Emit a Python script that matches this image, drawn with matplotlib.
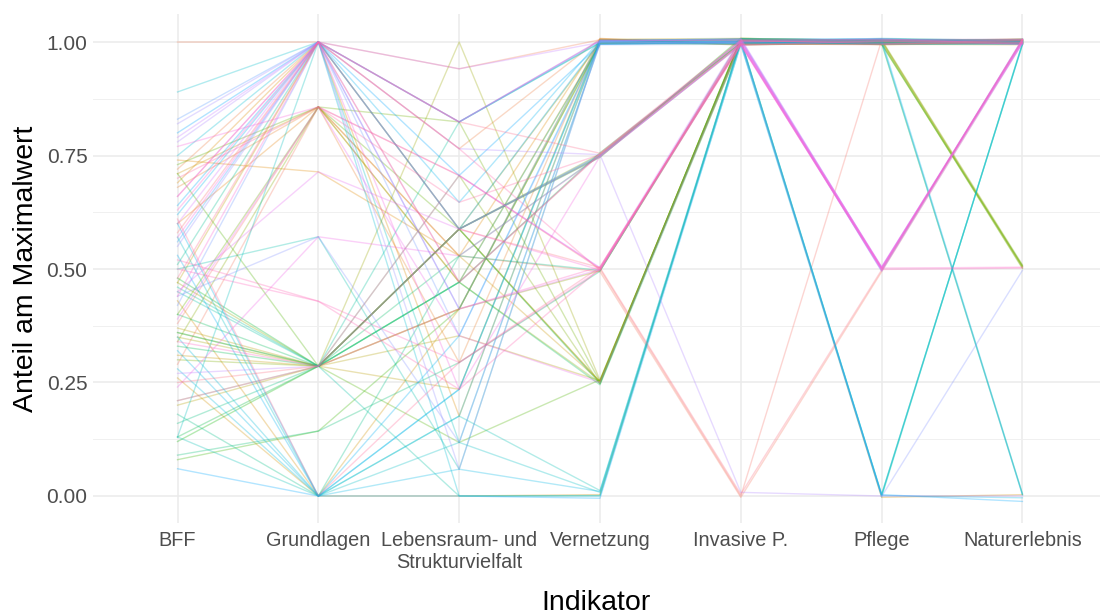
import numpy as np
import matplotlib
matplotlib.use("Agg")
import matplotlib.pyplot as plt
from matplotlib.ticker import FixedLocator

plt.rcParams["font.family"] = ["Liberation Sans", "DejaVu Sans"]

indikatoren = ["BFF", "Grundlagen", "Lebensraum- und\nStrukturvielfalt", "Vernetzung",
               "Invasive P.", "Pflege", "Naturerlebnis"]

# group number of each area (sets its colour)
gebiet = [2, 41, 53, 51, 3, 49, 5, 52, 35, 13,
          39, 43, 4, 15, 37, 54, 6, 44, 11, 47,
          75, 28, 77, 30, 25, 79, 68, 69, 71, 31,
          73, 74, 17, 27, 12, 29, 10, 38, 40, 42,
          57, 60, 62, 64, 59, 61, 63, 65, 56, 66,
          16, 18, 20, 22, 14, 24, 46, 48, 26, 0,
          1, 78, 58, 8, 50, 45, 55, 70, 72, 7,
          32, 9, 34, 76, 19, 23, 33, 36, 67, 21]

# one entry per area, share of the maximum value per indicator
bff = [1.00, 0.89, 0.83, 0.80, 0.72, 0.64, 0.60, 0.56, 0.46, 0.37,
       0.13, 0.35, 0.68, 0.21, 0.50, 0.42, 0.74, 0.28, 0.31, 0.62,
       0.70, 0.33, 0.48, 0.36, 0.12, 0.58, 0.77, 0.44, 0.34, 0.09,
       0.52, 0.66, 0.36, 0.13, 0.47, 0.40, 0.71, 0.13, 0.57, 0.75,
       0.82, 0.79, 0.60, 0.45, 0.27, 0.21, 0.66, 0.39, 0.55, 0.24,
       0.35, 0.47, 0.30, 0.73, 0.20, 0.08, 0.60, 0.53, 0.48, 0.38,
       0.29, 0.25, 0.78, 0.43, 0.06, 0.32, 0.44, 0.63, 0.50, 0.69,
       0.16, 0.26, 0.51, 0.61, 0.34, 0.71, 0.18, 0.45, 0.57, 0.40]

grundlagen = [1.000, 1.000, 1.000, 1.000, 1.000, 1.000, 0.857, 1.000, 0.286, 0.286,
              1.000, 0.000, 0.857, 0.286, 0.571, 1.000, 0.714, 0.000, 0.286, 1.000,
              0.857, 0.286, 1.000, 0.286, 0.286, 1.000, 0.857, 1.000, 0.286, 0.143,
              0.429, 1.000, 0.286, 0.286, 1.000, 0.286, 0.857, 0.000, 0.000, 1.000,
              1.000, 1.000, 1.000, 0.714, 0.286, 0.286, 1.000, 0.857, 1.000, 0.571,
              0.286, 0.286, 0.286, 0.857, 0.286, 0.143, 0.000, 0.000, 0.286, 0.857,
              0.857, 0.286, 1.000, 0.000, 0.000, 0.000, 0.571, 1.000, 0.429, 1.000,
              0.286, 0.000, 1.000, 0.000, 0.857, 0.286, 0.000, 0.286, 1.000, 0.857]

lebensraum = [0.941, 0.824, 0.824, 0.706, 0.765, 0.588, 0.471, 0.412, 0.824, 0.235,
              0.118, 0.176, 0.294, 0.588, 0.059, 0.353, 0.529, 0.235, 0.412, 0.647,
              0.647, 0.588, 0.824, 0.529, 0.588, 0.471, 0.706, 0.588, 0.412, 0.294,
              0.235, 0.765, 1.000, 0.588, 0.588, 0.471, 0.529, 0.176, 0.118, 0.000,
              0.824, 0.941, 0.471, 0.588, 0.588, 0.706, 0.412, 0.353, 0.059, 0.529,
              0.588, 0.412, 0.706, 0.588, 0.353, 0.412, 0.235, 0.353, 0.471, 0.706,
              0.529, 0.588, 0.765, 0.000, 0.000, 0.059, 0.118, 0.824, 0.294, 0.176,
              0.471, 0.412, 0.588, 0.294, 0.471, 0.118, 0.529, 0.000, 0.235, 0.824]

vernetzung = [1.005, 0.998, 1.003, 0.995, 1.007, 1.001, 0.997, 1.004, 0.999, 1.006,
              0.996, 1.002, 1.008, 0.998, 1.003, 0.994, 1.005, 1.000, 0.997, 1.004,
              0.752, 0.748, 0.755, 0.750, 0.746, 0.753, 0.502, 0.498, 0.505, 0.495,
              0.501, 0.497, 0.255, 0.248, 0.251, 0.245, 0.253, 0.012, 0.008, 0.000,
              1.002, 0.999, 0.754, 0.747, 0.751, 0.503, 0.499, 0.250, 1.001, 0.749,
              0.252, 0.496, 0.247, 0.753, 0.254, 0.997, 1.003, 0.999, 0.756, 0.500,
              0.494, 0.503, 0.752, 0.003, -0.005, 0.010, 0.996, 1.004, 0.498, 1.002,
              0.995, 1.006, 0.750, 0.504, 0.249, 0.256, 0.497, 0.001, 0.748, 0.252]

invasive = [1.004, 0.997, 1.007, 1.000, 0.994, 1.002, 0.999, 1.005, 0.996, 1.008,
            0.998, 1.003, 0.993, 1.006, 1.001, 0.995, 1.004, 0.999, 1.007, 0.997,
            1.002, 0.994, 1.005, 0.998, 1.008, 0.996, 1.001, 1.004, 0.993, 1.006,
            0.999, 1.003, 0.995, 1.007, 1.000, 0.997, 1.005, 1.002, 0.994, 1.004,
            1.006, 0.998, 1.001, 0.995, 1.003, 1.008, 0.996, 1.000, 1.005, 0.993,
            1.002, 0.997, 1.006, 0.999, 1.004, 0.995, 1.007, 1.001, 0.998, 0.000,
            -0.003, 0.004, 0.008, 1.003, 0.996, 1.005, 0.999, 1.002, 0.994, 1.006,
            1.001, 0.997, 1.004, 0.995, 1.008, 1.000, 0.998, 1.003, 0.996, 1.005]

pflege = [1.003, 0.998, 1.006, 0.995, 1.001, 1.007, 0.997, 1.004, 0.999, 1.002,
          0.996, 1.005, 1.000, 0.994, 1.008, 1.002, 0.998, 1.004, 0.995, 1.006,
          1.001, 0.997, 1.005, 0.999, 1.003, 0.994, 1.007, 0.996, 1.002, 1.000,
          1.004, 0.998, 1.006, 0.995, 1.001, 1.003, 0.997, 0.002, -0.002, 0.004,
          0.503, 0.497, 0.505, 0.500, 0.495, 0.502, 0.498, 0.504, 0.496, 0.501,
          1.002, 0.996, 1.005, 0.999, 1.003, 0.995, 1.006, 1.000, 0.997, 1.004,
          0.494, 0.498, 0.000, -0.003, 0.003, 0.001, -0.001, 0.502, 0.499, 1.002,
          0.997, 1.005, 1.001, 0.995, 1.003, 0.998, 1.006, 0.002, 0.503, 0.999]

naturerlebnis = [1.002, 0.998, 1.005, 0.996, 1.003, 1.000, 0.997, 1.006, 0.999, 1.004,
                 0.995, 1.001, 1.007, 0.998, 1.003, 0.996, 1.005, 1.000, 0.994, 1.002,
                 1.004, 0.999, 1.006, 0.997, 1.001, 1.003, 0.995, 1.005, 0.998, 1.002,
                 1.000, 0.996, 1.004, 0.999, 1.006, 0.997, 1.002, 0.995, 0.998, 0.994,
                 1.003, 1.007, 0.999, 1.005, 0.997, 1.002, 1.004, 0.998, 1.006, 1.001,
                 0.506, 0.503, 0.509, 0.501, 0.505, 0.507, 0.005, 0.002, 0.004, 1.003,
                 0.999, 1.005, 0.000, 0.003, -0.012, -0.004, 0.497, 0.504, 0.502, 1.001,
                 1.006, 0.997, 1.003, 0.999, 1.004, 0.996, 1.002, 0.996, 1.005, 0.998]


def hcl_color(h, c=100, l=65):
    # polar LUV -> sRGB, like grDevices::hcl
    h = np.deg2rad(h)
    u, v = c * np.cos(h), c * np.sin(h)
    xn, yn, zn = 95.047, 100.0, 108.883
    un = 4 * xn / (xn + 15 * yn + 3 * zn)
    vn = 9 * yn / (xn + 15 * yn + 3 * zn)
    y = yn * ((l + 16) / 116) ** 3
    up = u / (13 * l) + un
    vp = v / (13 * l) + vn
    x = y * 9 * up / (4 * vp)
    z = y * (12 - 3 * up - 20 * vp) / (4 * vp)
    m = np.array([[3.2404542, -1.5371385, -0.4985314],
                  [-0.9692660, 1.8760108, 0.0415560],
                  [0.0556434, -0.2040259, 1.0572252]])
    rgb = m @ (np.array([x, y, z]) / 100)
    rgb = np.where(rgb <= 0.0031308, 12.92 * rgb, 1.055 * np.abs(rgb) ** (1 / 2.4) - 0.055)
    return tuple(np.clip(rgb, 0, 1))


data = np.array([bff, grundlagen, lebensraum, vernetzung, invasive, pflege, naturerlebnis]).T
n = len(data)
xs = np.arange(1, len(indikatoren) + 1)

fig = plt.figure(figsize=(11.01, 6.15), dpi=100)
ax = fig.add_axes([0.0845, 0.1496, 0.9145, 0.8276])

# lines drawn in group order, hue spread evenly over the groups
for i in np.argsort(gebiet):
    hue = 15 + 360 * gebiet[i] / n
    ax.plot(xs, data[i], color=hcl_color(hue), alpha=0.3, lw=1.0, zorder=2)

ax.set_xlim(0.4, 7.55)
ax.set_ylim(-0.0595, 1.0617)
ax.set_xticks(xs)
ax.set_xticklabels(indikatoren)
ax.set_yticks([0, 0.25, 0.5, 0.75, 1.0])
ax.set_yticklabels(["0.00", "0.25", "0.50", "0.75", "1.00"])
ax.yaxis.set_minor_locator(FixedLocator([0.125, 0.375, 0.625, 0.875]))

ax.grid(True, which="major", color="#EBEBEB", lw=1.1, zorder=0)
ax.grid(True, which="minor", axis="y", color="#F0F0F0", lw=0.7, zorder=0)
ax.set_axisbelow(True)
for s in ax.spines.values():
    s.set_visible(False)
ax.tick_params(which="both", length=0, labelcolor="#4D4D4D")
ax.tick_params(axis="x", pad=6, labelsize=14.3)
ax.tick_params(axis="y", pad=4, labelsize=15)

ax.set_xlabel("Indikator", fontsize=20.5)
ax.set_ylabel("Anteil am Maximalwert", fontsize=20.5)
ax.xaxis.set_label_coords(0.5, -0.132)
ax.yaxis.set_label_coords(-0.054, 0.5)

fig.savefig("out.png", dpi=100)
